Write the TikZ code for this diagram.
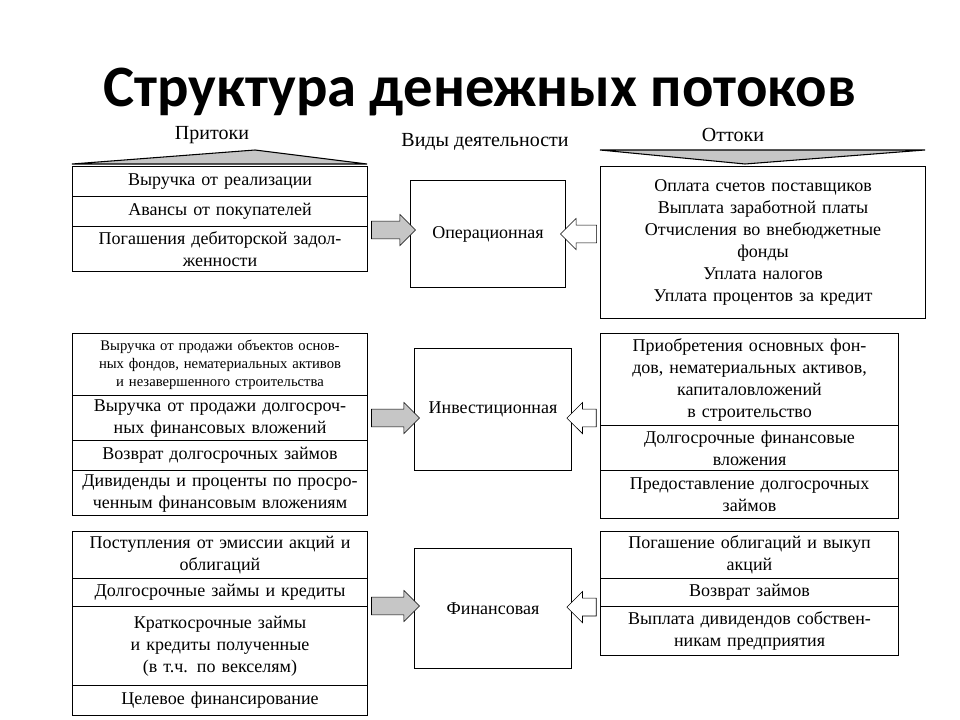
\documentclass[tikz,border=0pt]{standalone}
\usepackage{fontspec}
\setmainfont{Liberation Serif}
\newfontfamily\titlefont{Carlito}
\usetikzlibrary{shapes.arrows,calc}

\tikzset{
  cell/.style={draw, line width=0.8pt, align=center, inner sep=1pt, font=\fontsize{13.5}{16.5}\selectfont},
  small/.style={font=\fontsize{11}{13.5}\selectfont},
  inarrow/.style={single arrow, draw, fill=gray!45, minimum height=33pt, inner sep=6.5pt, single arrow head extend=5pt},
  outarrow/.style={single arrow, draw, fill=white, shape border rotate=180, minimum height=27pt, inner sep=6.5pt, single arrow head extend=5pt}
}
% cell: name, x, y (top left), width, height, text
\newcommand{\cell}[7][]{%
  \node[cell, #1, anchor=north west, minimum width=#4*0.75pt, minimum height=#5*0.75pt, text width=#4*0.75pt-4pt]
    (#2) at (#3) {#6 #7};}

\begin{document}
\begin{tikzpicture}[x=0.75pt,y=-0.75pt]
\useasboundingbox (0,0) rectangle (960,720);

% title and headers
\node[font=\titlefont\bfseries\fontsize{44}{46}\selectfont] (title) at (480,92) {Структура денежных потоков};
\node[font=\fontsize{15}{17}\selectfont] (inflow) at (212,135) {Притоки};
\node[font=\fontsize{15}{17}\selectfont] (kinds) at (485,142) {Виды деятельности};
\node[font=\fontsize{15}{17}\selectfont] (outflow) at (733,135) {Оттоки};
\draw[fill=gray!45, line width=0.8pt] (72,164) -- (255,150) -- (367,164) -- cycle;
\draw[fill=gray!45, line width=0.8pt] (600,150) -- (925,150) -- (745,164) -- cycle;

% operating
\cell{o1}{72,166}{295}{30}{}{Выручка от реализации}
\cell{o2}{72,196}{295}{30}{}{Авансы от покупателей}
\cell{o3}{72,226}{295}{45}{}{Погашения дебиторской задол-\\женности}
\cell{op}{410,180}{155}{107}{}{Операционная}
\cell{oo}{600,166}{325}{152}{}{Оплата счетов поставщиков\\Выплата заработной платы\\Отчисления во внебюджетные\\фонды\\Уплата налогов\\Уплата процентов за кредит}
\node[inarrow] (oa) at ($(o3.north east)!0.5!(op.west)$) {};
\node[outarrow] (ob) at ($(op.west-|oo.west)!0.5!(op.east)$) {};

% investing
\cell[small]{i1}{72,333}{295}{62}{}{Выручка от продажи объектов основ-\\ных фондов, нематериальных активов\\и незавершенного строительства}
\cell{i2}{72,395}{295}{45}{}{Выручка от продажи долгосроч-\\ных финансовых вложений}
\cell{i3}{72,440}{295}{30}{}{Возврат долгосрочных займов}
\cell{i4}{72,470}{295}{45}{}{Дивиденды и проценты по просро-\\ченным финансовым вложениям}
\cell{inv}{414,348}{157}{122}{}{Инвестиционная}
\cell{j1}{600,333}{298}{92}{}{Приобретения основных фон-\\дов, нематериальных активов,\\капиталовложений\\в строительство}
\cell{j2}{600,425}{298}{45}{}{Долгосрочные финансовые\\вложения}
\cell{j3}{600,470}{298}{48}{}{Предоставление долгосрочных\\займов}
\node[inarrow, minimum height=36pt] (ia) at ($(i2.east)!0.5!(i2.east-|inv.west)$) {};
\node[outarrow, minimum height=22pt] (ib) at ($(i2.east-|inv.east)!0.5!(i2.east-|j2.west)$) {};

% financing
\cell{f1}{72,531}{295}{47}{}{Поступления от эмиссии акций и\\облигаций}
\cell{f2}{72,578}{295}{28}{}{Долгосрочные займы и кредиты}
\cell{f3}{72,606}{295}{79}{}{Краткосрочные займы\\и кредиты полученные\\(в т.ч. по векселям)}
\cell{f4}{72,685}{295}{30}{}{Целевое финансирование}
\cell{fin}{414,548}{157}{120}{}{Финансовая}
\cell{g1}{600,531}{298}{47}{}{Погашение облигаций и выкуп\\акций}
\cell{g2}{600,578}{298}{28}{}{Возврат займов}
\cell{g3}{600,606}{298}{49}{}{Выплата дивидендов собствен-\\никам предприятия}
\node[inarrow, minimum height=36pt] (fa) at ($(f3.north east)!0.5!(f3.north east-|fin.west)$) {};
\node[outarrow, minimum height=22pt] (fb) at ($(g2.south west-|fin.east)!0.5!(g2.south west)$) {};
\end{tikzpicture}
\end{document}
